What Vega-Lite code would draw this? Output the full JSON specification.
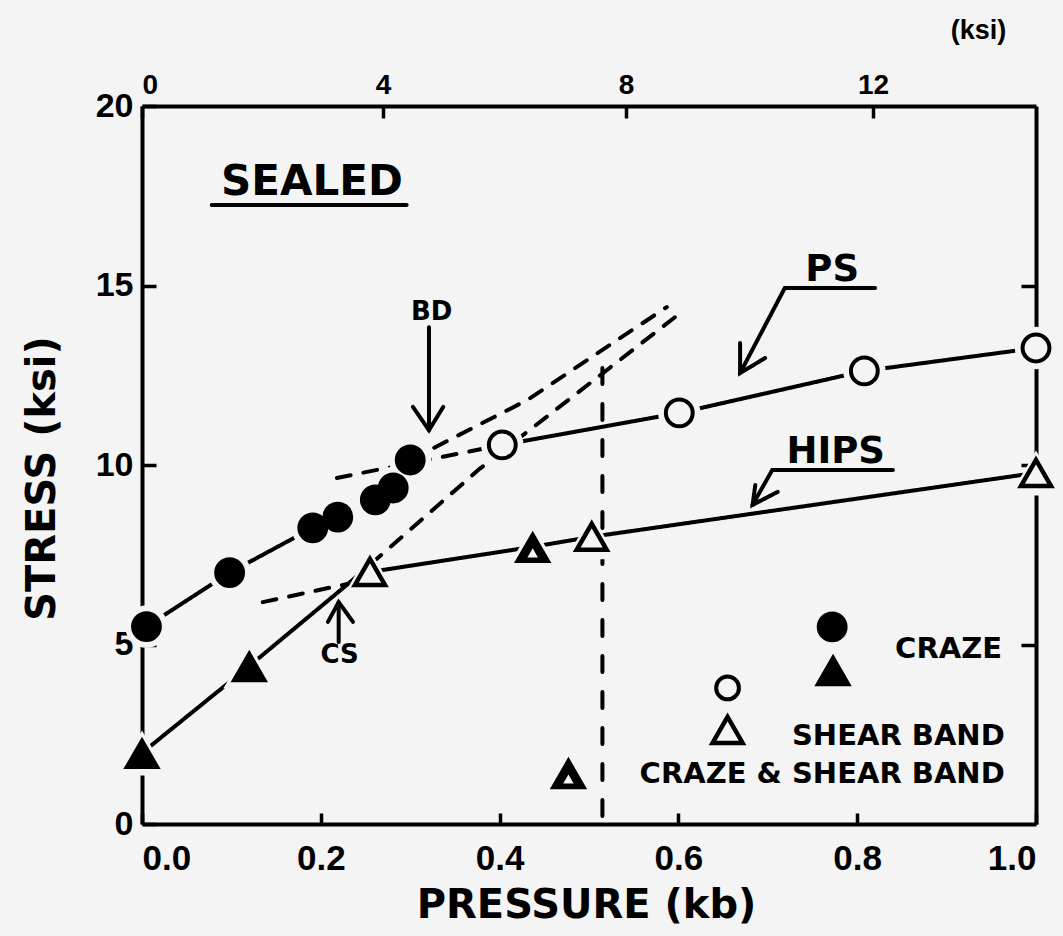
{
  "$schema": "https://vega.github.io/schema/vega-lite/v6.json",
  "width": 894,
  "height": 718,
  "autosize": {"type": "none"},
  "padding": {"left": 142, "top": 106, "right": 27, "bottom": 112},
  "background": "#f4f4f4",
  "config": {
    "view": {"stroke": null},
    "axis": {"domainColor": "black", "domainWidth": 4, "tickColor": "black", "tickWidth": 3.5, "labelColor": "black", "titleColor": "black", "grid": false, "zindex": 1}
  },
  "datasets": {
    "pts": [
      {"kind": "circle_f", "role": "data", "p": 0.005, "s": 5.5},
      {"kind": "circle_f", "role": "data", "p": 0.098, "s": 7.0},
      {"kind": "circle_f", "role": "data", "p": 0.191, "s": 8.25},
      {"kind": "circle_f", "role": "data", "p": 0.219, "s": 8.55},
      {"kind": "circle_f", "role": "data", "p": 0.261, "s": 9.03},
      {"kind": "circle_f", "role": "data", "p": 0.281, "s": 9.36},
      {"kind": "circle_f", "role": "data", "p": 0.300, "s": 10.14},
      {"kind": "circle_o", "role": "data", "p": 0.403, "s": 10.56},
      {"kind": "circle_o", "role": "data", "p": 0.601, "s": 11.45},
      {"kind": "circle_o", "role": "data", "p": 0.808, "s": 12.62},
      {"kind": "circle_o", "role": "data", "p": 1.0, "s": 13.26},
      {"kind": "tri_f", "role": "data", "p": 0.0, "s": 1.98},
      {"kind": "tri_f", "role": "data", "p": 0.12, "s": 4.4},
      {"kind": "tri_o", "role": "data", "p": 0.255, "s": 7.02},
      {"kind": "tri_o", "role": "data", "p": 0.503, "s": 8.0},
      {"kind": "tri_o", "role": "data", "p": 1.0, "s": 9.78},
      {"kind": "tri_h", "role": "data", "p": 0.437, "s": 7.72},
      {"kind": "circle_f", "role": "legend", "p": 0.772, "s": 5.49},
      {"kind": "tri_f", "role": "legend", "p": 0.773, "s": 4.29},
      {"kind": "circle_o", "role": "legend", "p": 0.655, "s": 3.79},
      {"kind": "tri_o", "role": "legend", "p": 0.655, "s": 2.62},
      {"kind": "tri_h", "role": "legend", "p": 0.477, "s": 1.42}
    ],
    "lines": [
      {"id": "ps_craze", "style": "solid", "o": 1, "p": 0.005, "s": 5.5},
      {"id": "ps_craze", "style": "solid", "o": 2, "p": 0.098, "s": 7.0},
      {"id": "ps_craze", "style": "solid", "o": 3, "p": 0.191, "s": 8.25},
      {"id": "ps_craze", "style": "solid", "o": 4, "p": 0.219, "s": 8.55},
      {"id": "ps_craze", "style": "solid", "o": 5, "p": 0.261, "s": 9.03},
      {"id": "ps_craze", "style": "solid", "o": 6, "p": 0.281, "s": 9.36},
      {"id": "ps_craze", "style": "solid", "o": 7, "p": 0.300, "s": 10.14},
      {"id": "ps_shear", "style": "solid", "o": 1, "p": 0.403, "s": 10.56},
      {"id": "ps_shear", "style": "solid", "o": 2, "p": 0.601, "s": 11.45},
      {"id": "ps_shear", "style": "solid", "o": 3, "p": 0.808, "s": 12.62},
      {"id": "ps_shear", "style": "solid", "o": 4, "p": 1.0, "s": 13.26},
      {"id": "hips_craze", "style": "solid", "o": 1, "p": 0.0, "s": 1.98},
      {"id": "hips_craze", "style": "solid", "o": 2, "p": 0.12, "s": 4.4},
      {"id": "hips_craze", "style": "solid", "o": 3, "p": 0.233, "s": 6.74},
      {"id": "hips_shear", "style": "solid", "o": 1, "p": 0.255, "s": 7.02},
      {"id": "hips_shear", "style": "solid", "o": 2, "p": 0.437, "s": 7.72},
      {"id": "hips_shear", "style": "solid", "o": 3, "p": 0.503, "s": 8.0},
      {"id": "hips_shear", "style": "solid", "o": 4, "p": 1.0, "s": 9.78},
      {"id": "ext_a", "style": "dash", "o": 1, "p": 0.300, "s": 10.14},
      {"id": "ext_a", "style": "dash", "o": 2, "p": 0.431, "s": 11.81},
      {"id": "ext_a", "style": "dash", "o": 3, "p": 0.587, "s": 14.40},
      {"id": "ext_b", "style": "dash", "o": 1, "p": 0.233, "s": 6.74},
      {"id": "ext_b", "style": "dash", "o": 2, "p": 0.378, "s": 9.9},
      {"id": "ext_b", "style": "dash", "o": 3, "p": 0.602, "s": 14.23},
      {"id": "ext_ps_shear", "style": "dash", "o": 1, "p": 0.218, "s": 9.64},
      {"id": "ext_ps_shear", "style": "dash", "o": 2, "p": 0.403, "s": 10.56},
      {"id": "ext_hips_shear", "style": "dash", "o": 1, "p": 0.135, "s": 6.18},
      {"id": "ext_hips_shear", "style": "dash", "o": 2, "p": 0.232, "s": 6.70},
      {"id": "vline", "style": "vdash", "o": 1, "p": 0.515, "s": 12.7},
      {"id": "vline", "style": "vdash", "o": 2, "p": 0.515, "s": 0.0},
      {"id": "sealed_ul", "style": "solid", "o": 1, "p": 0.078, "s": 17.24},
      {"id": "sealed_ul", "style": "solid", "o": 2, "p": 0.296, "s": 17.24},
      {"id": "bd_shaft", "style": "solid", "o": 1, "p": 0.321, "s": 13.84},
      {"id": "bd_shaft", "style": "solid", "o": 2, "p": 0.321, "s": 10.97},
      {"id": "bd_head", "style": "solid", "o": 1, "p": 0.303, "s": 11.62},
      {"id": "bd_head", "style": "solid", "o": 2, "p": 0.321, "s": 10.97},
      {"id": "bd_head", "style": "solid", "o": 3, "p": 0.337, "s": 11.62},
      {"id": "cs_shaft", "style": "solid", "o": 1, "p": 0.220, "s": 5.07},
      {"id": "cs_shaft", "style": "solid", "o": 2, "p": 0.220, "s": 6.18},
      {"id": "cs_head", "style": "solid", "o": 1, "p": 0.208, "s": 5.63},
      {"id": "cs_head", "style": "solid", "o": 2, "p": 0.220, "s": 6.18},
      {"id": "cs_head", "style": "solid", "o": 3, "p": 0.236, "s": 5.63},
      {"id": "ps_arrow", "style": "solid", "o": 1, "p": 0.820, "s": 14.93},
      {"id": "ps_arrow", "style": "solid", "o": 2, "p": 0.719, "s": 14.93},
      {"id": "ps_arrow", "style": "solid", "o": 3, "p": 0.669, "s": 12.56},
      {"id": "ps_head", "style": "solid", "o": 1, "p": 0.669, "s": 13.40},
      {"id": "ps_head", "style": "solid", "o": 2, "p": 0.669, "s": 12.56},
      {"id": "ps_head", "style": "solid", "o": 3, "p": 0.697, "s": 12.98},
      {"id": "hips_arrow", "style": "solid", "o": 1, "p": 0.840, "s": 9.86},
      {"id": "hips_arrow", "style": "solid", "o": 2, "p": 0.705, "s": 9.86},
      {"id": "hips_arrow", "style": "solid", "o": 3, "p": 0.683, "s": 8.89},
      {"id": "hips_head", "style": "solid", "o": 1, "p": 0.686, "s": 9.44},
      {"id": "hips_head", "style": "solid", "o": 2, "p": 0.683, "s": 8.89},
      {"id": "hips_head", "style": "solid", "o": 3, "p": 0.711, "s": 9.25}
    ],
    "labels": [
      {"t": "SEALED", "g": "sealed", "p": 0.190, "s": 17.88},
      {"t": "BD", "g": "small", "p": 0.324, "s": 14.26},
      {"t": "CS", "g": "small", "p": 0.221, "s": 4.71},
      {"t": "PS", "g": "name", "p": 0.772, "s": 15.43},
      {"t": "HIPS", "g": "name", "p": 0.776, "s": 10.36},
      {"t": "CRAZE", "g": "legend", "p": 0.962, "s": 4.87},
      {"t": "SHEAR BAND", "g": "legend", "p": 0.965, "s": 2.45},
      {"t": "CRAZE & SHEAR BAND", "g": "legend", "p": 0.965, "s": 1.39}
    ]
  },
  "layer": [
    {
      "data": {"name": "lines"},
      "mark": {"type": "line", "strokeWidth": 4, "color": "black", "strokeCap": "round"},
      "encoding": {
        "x": {"field": "p", "type": "quantitative", "scale": {"domain": [0, 1], "nice": false, "zero": false},
          "axis": {"orient": "bottom", "values": [0, 0.2, 0.4, 0.6, 0.8, 1], "format": ".1f", "tickSize": -11,
            "labelFont": "Liberation Sans", "labelFontWeight": "bold", "labelFontSize": 35, "labelPadding": 28,
            "title": "PRESSURE (kb)", "titleFont": "DejaVu Sans", "titleFontWeight": "bold", "titleFontSize": 40,
            "titleX": 444, "titleY": 81, "titleAlign": "center", "titleBaseline": "middle"}},
        "y": {"field": "s", "type": "quantitative", "scale": {"domain": [0, 20], "nice": false, "zero": true},
          "axis": {"orient": "left", "values": [0, 5, 10, 15, 20], "tickSize": -14,
            "labelFont": "Liberation Sans", "labelFontWeight": "bold", "labelFontSize": 34, "labelPadding": 23,
            "title": "STRESS (ksi)", "titleFont": "DejaVu Sans", "titleFontWeight": "bold", "titleFontSize": 40,
            "titleAngle": -90, "titleX": -100, "titleY": 372, "titleAlign": "center", "titleBaseline": "middle"}},
        "detail": {"field": "id", "type": "nominal"},
        "order": {"field": "o", "type": "quantitative"},
        "strokeDash": {"field": "style", "type": "nominal", "scale": {"domain": ["solid", "dash", "vdash"], "range": [[1, 0], [14, 13], [16, 20]]}, "legend": null}
      }
    },
    {
      "data": {"name": "pts"},
      "mark": {"type": "point", "opacity": 0},
      "encoding": {
        "x": {"field": "p", "type": "quantitative", "scale": {"domain": [0, 1], "nice": false, "zero": false},
          "axis": {"orient": "top", "values": [0, 0.2696, 0.5414, 0.8177], "labelExpr": "format(round(datum.value*14.7), 'd')", "tickSize": -12,
            "labelFont": "Liberation Sans", "labelFontWeight": "bold", "labelFontSize": 28, "labelPadding": 19,
            "title": "(ksi)", "titleFont": "Liberation Sans", "titleFontWeight": "bold", "titleFontSize": 27,
            "titleX": 836, "titleY": -76, "titleAlign": "center", "titleBaseline": "middle"}},
        "y": {"field": "s", "type": "quantitative", "scale": {"domain": [0, 20], "nice": false, "zero": true},
          "axis": {"orient": "right", "values": [5, 10, 15], "tickSize": -15, "labels": false, "title": null}}
      }
    },
    {
      "data": {"name": "pts"},
      "transform": [{"filter": "datum.role === 'data' && (datum.kind === 'circle_f' || datum.kind === 'circle_o')"}],
      "mark": {"type": "point", "shape": "circle", "filled": true, "color": "#f4f4f4", "size": 1800, "opacity": 1},
      "encoding": {
        "x": {"field": "p", "type": "quantitative", "scale": {"domain": [0, 1], "nice": false, "zero": false}, "axis": null},
        "y": {"field": "s", "type": "quantitative", "scale": {"domain": [0, 20], "nice": false, "zero": true}, "axis": null}
      }
    },
    {
      "data": {"name": "pts"},
      "transform": [{"filter": "datum.role === 'data' && (datum.kind === 'tri_f' || datum.kind === 'tri_o' || datum.kind === 'tri_h')"}],
      "mark": {"type": "point", "shape": "triangle-up", "filled": true, "color": "#f4f4f4", "size": 2700, "opacity": 1},
      "encoding": {
        "x": {"field": "p", "type": "quantitative", "scale": {"domain": [0, 1], "nice": false, "zero": false}, "axis": null},
        "y": {"field": "s", "type": "quantitative", "scale": {"domain": [0, 20], "nice": false, "zero": true}, "axis": null}
      }
    },
    {
      "data": {"name": "pts"},
      "transform": [{"filter": "datum.kind === 'circle_f'"}],
      "mark": {"type": "point", "shape": "circle", "filled": true, "color": "black", "size": 950, "opacity": 1},
      "encoding": {
        "x": {"field": "p", "type": "quantitative", "scale": {"domain": [0, 1], "nice": false, "zero": false}, "axis": null},
        "y": {"field": "s", "type": "quantitative", "scale": {"domain": [0, 20], "nice": false, "zero": true}, "axis": null}
      }
    },
    {
      "data": {"name": "pts"},
      "transform": [{"filter": "datum.kind === 'circle_o' && datum.role === 'data'"}],
      "mark": {"type": "point", "shape": "circle", "filled": false, "stroke": "black", "strokeWidth": 4, "size": 720, "opacity": 1},
      "encoding": {
        "x": {"field": "p", "type": "quantitative", "scale": {"domain": [0, 1], "nice": false, "zero": false}, "axis": null},
        "y": {"field": "s", "type": "quantitative", "scale": {"domain": [0, 20], "nice": false, "zero": true}, "axis": null}
      }
    },
    {
      "data": {"name": "pts"},
      "transform": [{"filter": "datum.kind === 'circle_o' && datum.role === 'legend'"}],
      "mark": {"type": "point", "shape": "circle", "filled": false, "stroke": "black", "strokeWidth": 4, "size": 520, "opacity": 1},
      "encoding": {
        "x": {"field": "p", "type": "quantitative", "scale": {"domain": [0, 1], "nice": false, "zero": false}, "axis": null},
        "y": {"field": "s", "type": "quantitative", "scale": {"domain": [0, 20], "nice": false, "zero": true}, "axis": null}
      }
    },
    {
      "data": {"name": "pts"},
      "transform": [{"filter": "datum.kind === 'tri_f' || datum.kind === 'tri_h'"}],
      "mark": {"type": "point", "shape": "triangle-up", "filled": true, "color": "black", "size": 1400, "opacity": 1},
      "encoding": {
        "x": {"field": "p", "type": "quantitative", "scale": {"domain": [0, 1], "nice": false, "zero": false}, "axis": null},
        "y": {"field": "s", "type": "quantitative", "scale": {"domain": [0, 20], "nice": false, "zero": true}, "axis": null}
      }
    },
    {
      "data": {"name": "pts"},
      "transform": [{"filter": "datum.kind === 'tri_h'"}],
      "mark": {"type": "point", "shape": "triangle-up", "filled": true, "color": "#f4f4f4", "size": 110, "yOffset": 6, "opacity": 1},
      "encoding": {
        "x": {"field": "p", "type": "quantitative", "scale": {"domain": [0, 1], "nice": false, "zero": false}, "axis": null},
        "y": {"field": "s", "type": "quantitative", "scale": {"domain": [0, 20], "nice": false, "zero": true}, "axis": null}
      }
    },
    {
      "data": {"name": "pts"},
      "transform": [{"filter": "datum.kind === 'tri_o'"}],
      "mark": {"type": "point", "shape": "triangle-up", "filled": false, "stroke": "black", "strokeWidth": 4.5, "size": 900, "opacity": 1},
      "encoding": {
        "x": {"field": "p", "type": "quantitative", "scale": {"domain": [0, 1], "nice": false, "zero": false}, "axis": null},
        "y": {"field": "s", "type": "quantitative", "scale": {"domain": [0, 20], "nice": false, "zero": true}, "axis": null}
      }
    },
    {
      "data": {"name": "labels"},
      "transform": [{"filter": "datum.g === 'sealed'"}],
      "mark": {"type": "text", "font": "DejaVu Sans", "fontWeight": "bold", "fontSize": 42, "align": "center", "baseline": "middle", "color": "black"},
      "encoding": {
        "x": {"field": "p", "type": "quantitative", "scale": {"domain": [0, 1], "nice": false, "zero": false}, "axis": null},
        "y": {"field": "s", "type": "quantitative", "scale": {"domain": [0, 20], "nice": false, "zero": true}, "axis": null},
        "text": {"field": "t"}
      }
    },
    {
      "data": {"name": "labels"},
      "transform": [{"filter": "datum.g === 'small'"}],
      "mark": {"type": "text", "font": "DejaVu Sans", "fontWeight": "bold", "fontSize": 26, "align": "center", "baseline": "middle", "color": "black"},
      "encoding": {
        "x": {"field": "p", "type": "quantitative", "scale": {"domain": [0, 1], "nice": false, "zero": false}, "axis": null},
        "y": {"field": "s", "type": "quantitative", "scale": {"domain": [0, 20], "nice": false, "zero": true}, "axis": null},
        "text": {"field": "t"}
      }
    },
    {
      "data": {"name": "labels"},
      "transform": [{"filter": "datum.g === 'name'"}],
      "mark": {"type": "text", "font": "DejaVu Sans", "fontWeight": "bold", "fontSize": 37, "align": "center", "baseline": "middle", "color": "black"},
      "encoding": {
        "x": {"field": "p", "type": "quantitative", "scale": {"domain": [0, 1], "nice": false, "zero": false}, "axis": null},
        "y": {"field": "s", "type": "quantitative", "scale": {"domain": [0, 20], "nice": false, "zero": true}, "axis": null},
        "text": {"field": "t"}
      }
    },
    {
      "data": {"name": "labels"},
      "transform": [{"filter": "datum.g === 'legend'"}],
      "mark": {"type": "text", "font": "DejaVu Sans", "fontWeight": "bold", "fontSize": 29, "align": "right", "baseline": "middle", "color": "black"},
      "encoding": {
        "x": {"field": "p", "type": "quantitative", "scale": {"domain": [0, 1], "nice": false, "zero": false}, "axis": null},
        "y": {"field": "s", "type": "quantitative", "scale": {"domain": [0, 20], "nice": false, "zero": true}, "axis": null},
        "text": {"field": "t"}
      }
    }
  ],
  "resolve": {"axis": {"x": "independent", "y": "independent"}}
}
